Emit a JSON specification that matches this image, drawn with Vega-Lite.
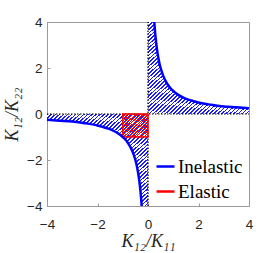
{
  "$schema": "https://vega.github.io/schema/vega-lite/v6.json",
  "width": 202,
  "height": 184,
  "autosize": {"type": "none"},
  "padding": {"left": 47, "top": 22, "right": 24, "bottom": 47},
  "background": "white",
  "config": {
    "view": {"stroke": "#9a9a9a", "strokeWidth": 1},
    "axis": {
      "grid": false,
      "domainColor": "#9a9a9a",
      "tickColor": "#9a9a9a",
      "tickSize": -3,
      "labelFont": "Liberation Sans",
      "labelFontSize": 13.5,
      "labelColor": "#262626",
      "titleFont": "Liberation Serif",
      "titleFontStyle": "italic",
      "titleFontWeight": "normal",
      "titleFontSize": 18,
      "titleColor": "#262626"
    },
    "legend": {"labelFont": "Liberation Serif", "labelFontSize": 19, "labelColor": "black"}
  },
  "datasets": {
    "curve": [
      {"x": 0.25, "y": 4, "branch": "pos", "type": "Inelastic"},
      {"x": 0.27, "y": 3.7, "branch": "pos", "type": "Inelastic"},
      {"x": 0.3, "y": 3.33, "branch": "pos", "type": "Inelastic"},
      {"x": 0.35, "y": 2.86, "branch": "pos", "type": "Inelastic"},
      {"x": 0.4, "y": 2.5, "branch": "pos", "type": "Inelastic"},
      {"x": 0.45, "y": 2.22, "branch": "pos", "type": "Inelastic"},
      {"x": 0.5, "y": 2, "branch": "pos", "type": "Inelastic"},
      {"x": 0.6, "y": 1.67, "branch": "pos", "type": "Inelastic"},
      {"x": 0.7, "y": 1.43, "branch": "pos", "type": "Inelastic"},
      {"x": 0.8, "y": 1.25, "branch": "pos", "type": "Inelastic"},
      {"x": 0.9, "y": 1.11, "branch": "pos", "type": "Inelastic"},
      {"x": 1, "y": 1, "branch": "pos", "type": "Inelastic"},
      {"x": 1.2, "y": 0.83, "branch": "pos", "type": "Inelastic"},
      {"x": 1.4, "y": 0.71, "branch": "pos", "type": "Inelastic"},
      {"x": 1.6, "y": 0.625, "branch": "pos", "type": "Inelastic"},
      {"x": 1.8, "y": 0.56, "branch": "pos", "type": "Inelastic"},
      {"x": 2, "y": 0.5, "branch": "pos", "type": "Inelastic"},
      {"x": 2.5, "y": 0.4, "branch": "pos", "type": "Inelastic"},
      {"x": 3, "y": 0.33, "branch": "pos", "type": "Inelastic"},
      {"x": 3.5, "y": 0.29, "branch": "pos", "type": "Inelastic"},
      {"x": 4, "y": 0.25, "branch": "pos", "type": "Inelastic"},
      {"x": -4, "y": -0.25, "branch": "neg", "type": "Inelastic"},
      {"x": -3.5, "y": -0.29, "branch": "neg", "type": "Inelastic"},
      {"x": -3, "y": -0.33, "branch": "neg", "type": "Inelastic"},
      {"x": -2.5, "y": -0.4, "branch": "neg", "type": "Inelastic"},
      {"x": -2, "y": -0.5, "branch": "neg", "type": "Inelastic"},
      {"x": -1.8, "y": -0.56, "branch": "neg", "type": "Inelastic"},
      {"x": -1.6, "y": -0.625, "branch": "neg", "type": "Inelastic"},
      {"x": -1.4, "y": -0.71, "branch": "neg", "type": "Inelastic"},
      {"x": -1.2, "y": -0.83, "branch": "neg", "type": "Inelastic"},
      {"x": -1, "y": -1, "branch": "neg", "type": "Inelastic"},
      {"x": -0.9, "y": -1.11, "branch": "neg", "type": "Inelastic"},
      {"x": -0.8, "y": -1.25, "branch": "neg", "type": "Inelastic"},
      {"x": -0.7, "y": -1.43, "branch": "neg", "type": "Inelastic"},
      {"x": -0.6, "y": -1.67, "branch": "neg", "type": "Inelastic"},
      {"x": -0.5, "y": -2, "branch": "neg", "type": "Inelastic"},
      {"x": -0.45, "y": -2.22, "branch": "neg", "type": "Inelastic"},
      {"x": -0.4, "y": -2.5, "branch": "neg", "type": "Inelastic"},
      {"x": -0.35, "y": -2.86, "branch": "neg", "type": "Inelastic"},
      {"x": -0.3, "y": -3.33, "branch": "neg", "type": "Inelastic"},
      {"x": -0.27, "y": -3.7, "branch": "neg", "type": "Inelastic"},
      {"x": -0.25, "y": -4, "branch": "neg", "type": "Inelastic"}
    ],
    "area": [
      {"x": 0, "y": 4, "branch": "pos"},
      {"x": 0.25, "y": 4, "branch": "pos"},
      {"x": 0.27, "y": 3.7, "branch": "pos"},
      {"x": 0.3, "y": 3.33, "branch": "pos"},
      {"x": 0.35, "y": 2.86, "branch": "pos"},
      {"x": 0.4, "y": 2.5, "branch": "pos"},
      {"x": 0.45, "y": 2.22, "branch": "pos"},
      {"x": 0.5, "y": 2, "branch": "pos"},
      {"x": 0.6, "y": 1.67, "branch": "pos"},
      {"x": 0.7, "y": 1.43, "branch": "pos"},
      {"x": 0.8, "y": 1.25, "branch": "pos"},
      {"x": 0.9, "y": 1.11, "branch": "pos"},
      {"x": 1, "y": 1, "branch": "pos"},
      {"x": 1.2, "y": 0.83, "branch": "pos"},
      {"x": 1.4, "y": 0.71, "branch": "pos"},
      {"x": 1.6, "y": 0.625, "branch": "pos"},
      {"x": 1.8, "y": 0.56, "branch": "pos"},
      {"x": 2, "y": 0.5, "branch": "pos"},
      {"x": 2.5, "y": 0.4, "branch": "pos"},
      {"x": 3, "y": 0.33, "branch": "pos"},
      {"x": 3.5, "y": 0.29, "branch": "pos"},
      {"x": 4, "y": 0.25, "branch": "pos"},
      {"x": -4, "y": -0.25, "branch": "neg"},
      {"x": -3.5, "y": -0.29, "branch": "neg"},
      {"x": -3, "y": -0.33, "branch": "neg"},
      {"x": -2.5, "y": -0.4, "branch": "neg"},
      {"x": -2, "y": -0.5, "branch": "neg"},
      {"x": -1.8, "y": -0.56, "branch": "neg"},
      {"x": -1.6, "y": -0.625, "branch": "neg"},
      {"x": -1.4, "y": -0.71, "branch": "neg"},
      {"x": -1.2, "y": -0.83, "branch": "neg"},
      {"x": -1, "y": -1, "branch": "neg"},
      {"x": -0.9, "y": -1.11, "branch": "neg"},
      {"x": -0.8, "y": -1.25, "branch": "neg"},
      {"x": -0.7, "y": -1.43, "branch": "neg"},
      {"x": -0.6, "y": -1.67, "branch": "neg"},
      {"x": -0.5, "y": -2, "branch": "neg"},
      {"x": -0.45, "y": -2.22, "branch": "neg"},
      {"x": -0.4, "y": -2.5, "branch": "neg"},
      {"x": -0.35, "y": -2.86, "branch": "neg"},
      {"x": -0.3, "y": -3.33, "branch": "neg"},
      {"x": -0.27, "y": -3.7, "branch": "neg"},
      {"x": -0.25, "y": -4, "branch": "neg"},
      {"x": 0, "y": -4, "branch": "neg"}
    ],
    "elastic": [{"x": -1, "x2": 0, "y": -1, "y2": 0}],
    "vline": [{"x": 0, "y": -4, "y2": 4}],
    "hline": [{"x": -4, "x2": 4, "y": 0}]
  },
  "encoding": {
    "x": {
      "field": "x", "type": "quantitative",
      "scale": {"domain": [-4, 4], "nice": false, "zero": false},
      "axis": {"values": [-4, -2, 0, 2, 4], "title": "K₁₂/K₁₁", "labelPadding": 14, "titlePadding": 2, "labelFlush": false}
    },
    "y": {
      "field": "y", "type": "quantitative",
      "scale": {"domain": [-4, 4], "nice": false, "zero": false},
      "axis": {"values": [-4, -2, 0, 2, 4], "title": "K₁₂/K₂₂", "labelPadding": 8, "titlePadding": 5, "labelFlush": false}
    }
  },
  "layer": [
    {
      "data": {"name": "area"},
      "mark": {"type": "area", "opacity": 1, "interpolate": "monotone",
        "fill": {"gradient": "linear", "x1": 0, "y1": 0, "x2": 1, "y2": 1, "stops": [
{"offset":0,"color":"#1a1aff"},{"offset":0.0085,"color":"#1a1aff"},{"offset":0.0085,"color":"white"},{"offset":0.02,"color":"white"},
{"offset":0.02,"color":"#1a1aff"},{"offset":0.0285,"color":"#1a1aff"},{"offset":0.0285,"color":"white"},{"offset":0.04,"color":"white"},
{"offset":0.04,"color":"#1a1aff"},{"offset":0.0485,"color":"#1a1aff"},{"offset":0.0485,"color":"white"},{"offset":0.06,"color":"white"},
{"offset":0.06,"color":"#1a1aff"},{"offset":0.0685,"color":"#1a1aff"},{"offset":0.0685,"color":"white"},{"offset":0.08,"color":"white"},
{"offset":0.08,"color":"#1a1aff"},{"offset":0.0885,"color":"#1a1aff"},{"offset":0.0885,"color":"white"},{"offset":0.1,"color":"white"},
{"offset":0.1,"color":"#1a1aff"},{"offset":0.1085,"color":"#1a1aff"},{"offset":0.1085,"color":"white"},{"offset":0.12,"color":"white"},
{"offset":0.12,"color":"#1a1aff"},{"offset":0.1285,"color":"#1a1aff"},{"offset":0.1285,"color":"white"},{"offset":0.14,"color":"white"},
{"offset":0.14,"color":"#1a1aff"},{"offset":0.1485,"color":"#1a1aff"},{"offset":0.1485,"color":"white"},{"offset":0.16,"color":"white"},
{"offset":0.16,"color":"#1a1aff"},{"offset":0.1685,"color":"#1a1aff"},{"offset":0.1685,"color":"white"},{"offset":0.18,"color":"white"},
{"offset":0.18,"color":"#1a1aff"},{"offset":0.1885,"color":"#1a1aff"},{"offset":0.1885,"color":"white"},{"offset":0.2,"color":"white"},
{"offset":0.2,"color":"#1a1aff"},{"offset":0.2085,"color":"#1a1aff"},{"offset":0.2085,"color":"white"},{"offset":0.22,"color":"white"},
{"offset":0.22,"color":"#1a1aff"},{"offset":0.2285,"color":"#1a1aff"},{"offset":0.2285,"color":"white"},{"offset":0.24,"color":"white"},
{"offset":0.24,"color":"#1a1aff"},{"offset":0.2485,"color":"#1a1aff"},{"offset":0.2485,"color":"white"},{"offset":0.26,"color":"white"},
{"offset":0.26,"color":"#1a1aff"},{"offset":0.2685,"color":"#1a1aff"},{"offset":0.2685,"color":"white"},{"offset":0.28,"color":"white"},
{"offset":0.28,"color":"#1a1aff"},{"offset":0.2885,"color":"#1a1aff"},{"offset":0.2885,"color":"white"},{"offset":0.3,"color":"white"},
{"offset":0.3,"color":"#1a1aff"},{"offset":0.3085,"color":"#1a1aff"},{"offset":0.3085,"color":"white"},{"offset":0.32,"color":"white"},
{"offset":0.32,"color":"#1a1aff"},{"offset":0.3285,"color":"#1a1aff"},{"offset":0.3285,"color":"white"},{"offset":0.34,"color":"white"},
{"offset":0.34,"color":"#1a1aff"},{"offset":0.3485,"color":"#1a1aff"},{"offset":0.3485,"color":"white"},{"offset":0.36,"color":"white"},
{"offset":0.36,"color":"#1a1aff"},{"offset":0.3685,"color":"#1a1aff"},{"offset":0.3685,"color":"white"},{"offset":0.38,"color":"white"},
{"offset":0.38,"color":"#1a1aff"},{"offset":0.3885,"color":"#1a1aff"},{"offset":0.3885,"color":"white"},{"offset":0.4,"color":"white"},
{"offset":0.4,"color":"#1a1aff"},{"offset":0.4085,"color":"#1a1aff"},{"offset":0.4085,"color":"white"},{"offset":0.42,"color":"white"},
{"offset":0.42,"color":"#1a1aff"},{"offset":0.4285,"color":"#1a1aff"},{"offset":0.4285,"color":"white"},{"offset":0.44,"color":"white"},
{"offset":0.44,"color":"#1a1aff"},{"offset":0.4485,"color":"#1a1aff"},{"offset":0.4485,"color":"white"},{"offset":0.46,"color":"white"},
{"offset":0.46,"color":"#1a1aff"},{"offset":0.4685,"color":"#1a1aff"},{"offset":0.4685,"color":"white"},{"offset":0.48,"color":"white"},
{"offset":0.48,"color":"#1a1aff"},{"offset":0.4885,"color":"#1a1aff"},{"offset":0.4885,"color":"white"},{"offset":0.5,"color":"white"},
{"offset":0.5,"color":"#1a1aff"},{"offset":0.5085,"color":"#1a1aff"},{"offset":0.5085,"color":"white"},{"offset":0.52,"color":"white"},
{"offset":0.52,"color":"#1a1aff"},{"offset":0.5285,"color":"#1a1aff"},{"offset":0.5285,"color":"white"},{"offset":0.54,"color":"white"},
{"offset":0.54,"color":"#1a1aff"},{"offset":0.5485,"color":"#1a1aff"},{"offset":0.5485,"color":"white"},{"offset":0.56,"color":"white"},
{"offset":0.56,"color":"#1a1aff"},{"offset":0.5685,"color":"#1a1aff"},{"offset":0.5685,"color":"white"},{"offset":0.58,"color":"white"},
{"offset":0.58,"color":"#1a1aff"},{"offset":0.5885,"color":"#1a1aff"},{"offset":0.5885,"color":"white"},{"offset":0.6,"color":"white"},
{"offset":0.6,"color":"#1a1aff"},{"offset":0.6085,"color":"#1a1aff"},{"offset":0.6085,"color":"white"},{"offset":0.62,"color":"white"},
{"offset":0.62,"color":"#1a1aff"},{"offset":0.6285,"color":"#1a1aff"},{"offset":0.6285,"color":"white"},{"offset":0.64,"color":"white"},
{"offset":0.64,"color":"#1a1aff"},{"offset":0.6485,"color":"#1a1aff"},{"offset":0.6485,"color":"white"},{"offset":0.66,"color":"white"},
{"offset":0.66,"color":"#1a1aff"},{"offset":0.6685,"color":"#1a1aff"},{"offset":0.6685,"color":"white"},{"offset":0.68,"color":"white"},
{"offset":0.68,"color":"#1a1aff"},{"offset":0.6885,"color":"#1a1aff"},{"offset":0.6885,"color":"white"},{"offset":0.7,"color":"white"},
{"offset":0.7,"color":"#1a1aff"},{"offset":0.7085,"color":"#1a1aff"},{"offset":0.7085,"color":"white"},{"offset":0.72,"color":"white"},
{"offset":0.72,"color":"#1a1aff"},{"offset":0.7285,"color":"#1a1aff"},{"offset":0.7285,"color":"white"},{"offset":0.74,"color":"white"},
{"offset":0.74,"color":"#1a1aff"},{"offset":0.7485,"color":"#1a1aff"},{"offset":0.7485,"color":"white"},{"offset":0.76,"color":"white"},
{"offset":0.76,"color":"#1a1aff"},{"offset":0.7685,"color":"#1a1aff"},{"offset":0.7685,"color":"white"},{"offset":0.78,"color":"white"},
{"offset":0.78,"color":"#1a1aff"},{"offset":0.7885,"color":"#1a1aff"},{"offset":0.7885,"color":"white"},{"offset":0.8,"color":"white"},
{"offset":0.8,"color":"#1a1aff"},{"offset":0.8085,"color":"#1a1aff"},{"offset":0.8085,"color":"white"},{"offset":0.82,"color":"white"},
{"offset":0.82,"color":"#1a1aff"},{"offset":0.8285,"color":"#1a1aff"},{"offset":0.8285,"color":"white"},{"offset":0.84,"color":"white"},
{"offset":0.84,"color":"#1a1aff"},{"offset":0.8485,"color":"#1a1aff"},{"offset":0.8485,"color":"white"},{"offset":0.86,"color":"white"},
{"offset":0.86,"color":"#1a1aff"},{"offset":0.8685,"color":"#1a1aff"},{"offset":0.8685,"color":"white"},{"offset":0.88,"color":"white"},
{"offset":0.88,"color":"#1a1aff"},{"offset":0.8885,"color":"#1a1aff"},{"offset":0.8885,"color":"white"},{"offset":0.9,"color":"white"},
{"offset":0.9,"color":"#1a1aff"},{"offset":0.9085,"color":"#1a1aff"},{"offset":0.9085,"color":"white"},{"offset":0.92,"color":"white"},
{"offset":0.92,"color":"#1a1aff"},{"offset":0.9285,"color":"#1a1aff"},{"offset":0.9285,"color":"white"},{"offset":0.94,"color":"white"},
{"offset":0.94,"color":"#1a1aff"},{"offset":0.9485,"color":"#1a1aff"},{"offset":0.9485,"color":"white"},{"offset":0.96,"color":"white"},
{"offset":0.96,"color":"#1a1aff"},{"offset":0.9685,"color":"#1a1aff"},{"offset":0.9685,"color":"white"},{"offset":0.98,"color":"white"},
{"offset":0.98,"color":"#1a1aff"},{"offset":0.9885,"color":"#1a1aff"},{"offset":0.9885,"color":"white"},{"offset":1,"color":"white"}
        ]}},
      "encoding": {
        "y2": {"datum": 0},
        "detail": {"field": "branch"}
      }
    },
    {
      "data": {"name": "vline"},
      "mark": {"type": "rule", "color": "black", "strokeWidth": 1.2, "strokeDash": [1.5, 1.5]},
      "encoding": {"y2": {"field": "y2"}}
    },
    {
      "data": {"name": "hline"},
      "mark": {"type": "rule", "color": "black", "strokeWidth": 1.2, "strokeDash": [1.5, 1.5]},
      "encoding": {"x2": {"field": "x2"}}
    },
    {
      "data": {"name": "elastic"},
      "mark": {"type": "rect", "stroke": "#f00", "strokeWidth": 1.5,
        "fill": {"gradient": "linear", "x1": 0, "y1": 0, "x2": 1, "y2": 1, "stops": [
{"offset":0,"color":"#f00"},{"offset":0.025,"color":"#f00"},{"offset":0.025,"color":"rgba(255,0,0,0)"},{"offset":0.05,"color":"rgba(255,0,0,0)"},
{"offset":0.05,"color":"#f00"},{"offset":0.075,"color":"#f00"},{"offset":0.075,"color":"rgba(255,0,0,0)"},{"offset":0.1,"color":"rgba(255,0,0,0)"},
{"offset":0.1,"color":"#f00"},{"offset":0.125,"color":"#f00"},{"offset":0.125,"color":"rgba(255,0,0,0)"},{"offset":0.15,"color":"rgba(255,0,0,0)"},
{"offset":0.15,"color":"#f00"},{"offset":0.175,"color":"#f00"},{"offset":0.175,"color":"rgba(255,0,0,0)"},{"offset":0.2,"color":"rgba(255,0,0,0)"},
{"offset":0.2,"color":"#f00"},{"offset":0.225,"color":"#f00"},{"offset":0.225,"color":"rgba(255,0,0,0)"},{"offset":0.25,"color":"rgba(255,0,0,0)"},
{"offset":0.25,"color":"#f00"},{"offset":0.275,"color":"#f00"},{"offset":0.275,"color":"rgba(255,0,0,0)"},{"offset":0.3,"color":"rgba(255,0,0,0)"},
{"offset":0.3,"color":"#f00"},{"offset":0.325,"color":"#f00"},{"offset":0.325,"color":"rgba(255,0,0,0)"},{"offset":0.35,"color":"rgba(255,0,0,0)"},
{"offset":0.35,"color":"#f00"},{"offset":0.375,"color":"#f00"},{"offset":0.375,"color":"rgba(255,0,0,0)"},{"offset":0.4,"color":"rgba(255,0,0,0)"},
{"offset":0.4,"color":"#f00"},{"offset":0.425,"color":"#f00"},{"offset":0.425,"color":"rgba(255,0,0,0)"},{"offset":0.45,"color":"rgba(255,0,0,0)"},
{"offset":0.45,"color":"#f00"},{"offset":0.475,"color":"#f00"},{"offset":0.475,"color":"rgba(255,0,0,0)"},{"offset":0.5,"color":"rgba(255,0,0,0)"},
{"offset":0.5,"color":"#f00"},{"offset":0.525,"color":"#f00"},{"offset":0.525,"color":"rgba(255,0,0,0)"},{"offset":0.55,"color":"rgba(255,0,0,0)"},
{"offset":0.55,"color":"#f00"},{"offset":0.575,"color":"#f00"},{"offset":0.575,"color":"rgba(255,0,0,0)"},{"offset":0.6,"color":"rgba(255,0,0,0)"},
{"offset":0.6,"color":"#f00"},{"offset":0.625,"color":"#f00"},{"offset":0.625,"color":"rgba(255,0,0,0)"},{"offset":0.65,"color":"rgba(255,0,0,0)"},
{"offset":0.65,"color":"#f00"},{"offset":0.675,"color":"#f00"},{"offset":0.675,"color":"rgba(255,0,0,0)"},{"offset":0.7,"color":"rgba(255,0,0,0)"},
{"offset":0.7,"color":"#f00"},{"offset":0.725,"color":"#f00"},{"offset":0.725,"color":"rgba(255,0,0,0)"},{"offset":0.75,"color":"rgba(255,0,0,0)"},
{"offset":0.75,"color":"#f00"},{"offset":0.775,"color":"#f00"},{"offset":0.775,"color":"rgba(255,0,0,0)"},{"offset":0.8,"color":"rgba(255,0,0,0)"},
{"offset":0.8,"color":"#f00"},{"offset":0.825,"color":"#f00"},{"offset":0.825,"color":"rgba(255,0,0,0)"},{"offset":0.85,"color":"rgba(255,0,0,0)"},
{"offset":0.85,"color":"#f00"},{"offset":0.875,"color":"#f00"},{"offset":0.875,"color":"rgba(255,0,0,0)"},{"offset":0.9,"color":"rgba(255,0,0,0)"},
{"offset":0.9,"color":"#f00"},{"offset":0.925,"color":"#f00"},{"offset":0.925,"color":"rgba(255,0,0,0)"},{"offset":0.95,"color":"rgba(255,0,0,0)"},
{"offset":0.95,"color":"#f00"},{"offset":0.975,"color":"#f00"},{"offset":0.975,"color":"rgba(255,0,0,0)"},{"offset":1,"color":"rgba(255,0,0,0)"}
        ]}},
      "encoding": {"x2": {"field": "x2"}, "y2": {"field": "y2"}}
    },
    {
      "data": {"name": "curve"},
      "mark": {"type": "line", "strokeWidth": 2.5, "interpolate": "monotone"},
      "encoding": {
        "detail": {"field": "branch"},
        "color": {
          "field": "type", "type": "nominal",
          "scale": {"domain": ["Inelastic", "Elastic"], "range": ["#0000ff", "#ff0000"]},
          "legend": {
            "orient": "none", "legendX": 108, "legendY": 134, "title": null,
            "symbolType": "stroke", "symbolSize": 324, "symbolStrokeWidth": 2.5,
            "labelFont": "Liberation Serif", "labelFontSize": 19, "labelColor": "black",
            "labelOffset": 2, "rowPadding": 4, "padding": 0
          }
        }
      }
    }
  ]
}
